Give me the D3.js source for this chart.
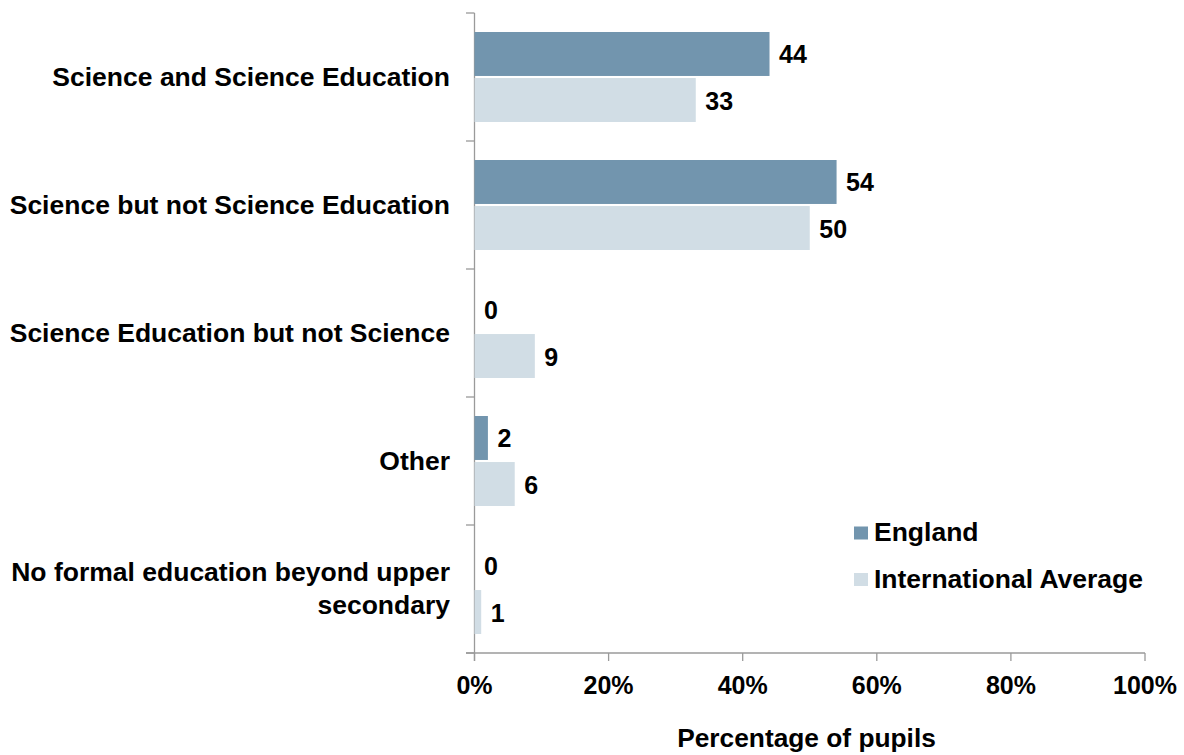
<!DOCTYPE html>
<html><head><meta charset="utf-8">
<script src="https://cdn.jsdelivr.net/npm/d3@7"></script>
<style>body{margin:0;background:#fff;} text{font-family:"Liberation Sans",Arial,sans-serif;font-weight:bold;fill:#000;}</style>
</head><body>
<svg id="c" width="1184" height="755"></svg>
<script>
const categories = [
  ["Science and Science Education"],
  ["Science but not Science Education"],
  ["Science Education but not Science"],
  ["Other"],
  ["No formal education beyond upper", "secondary"]
];
const seriesNames = ["England", "International Average"];
const england = [44, 54, 0, 2, 0];
const international = [33, 50, 9, 6, 1];
const xTicks = [0, 20, 40, 60, 80, 100];
const colors = ["#7295AE", "#D1DDE5"];

const svg = d3.select("#c");
const x = d3.scaleLinear().domain([0, 100]).range([474.5, 1145]);
const y = d3.scaleBand().domain(d3.range(categories.length)).range([13, 653]);
const inner = d3.scaleBand().domain([0, 1]).range([19, 128 - 19]).paddingInner(0.045);

const axisColor = "#9a9a9a";
// y axis
svg.append("line").attr("x1", 474.5).attr("x2", 474.5).attr("y1", 13).attr("y2", 661)
  .attr("stroke", axisColor).attr("stroke-width", 1.3);
const yb = d3.range(categories.length + 1).map(i => i < categories.length ? y(i) : 653);
svg.selectAll(".yt").data(yb).enter().append("line")
  .attr("x1", 466).attr("x2", 474.5).attr("y1", d => d).attr("y2", d => d)
  .attr("stroke", axisColor).attr("stroke-width", 1.3);
// x axis
svg.append("line").attr("x1", 466).attr("x2", 1145).attr("y1", 653).attr("y2", 653)
  .attr("stroke", axisColor).attr("stroke-width", 1.3);
svg.selectAll(".xt").data(xTicks).enter().append("line")
  .attr("x1", d => x(d)).attr("x2", d => x(d)).attr("y1", 653).attr("y2", 661)
  .attr("stroke", axisColor).attr("stroke-width", 1.3);
svg.selectAll(".xl").data(xTicks).enter().append("text")
  .attr("x", d => x(d)).attr("y", 694).attr("text-anchor", "middle")
  .style("font-size", "25px").text(d => d + "%");
svg.append("text").attr("x", 806.5).attr("y", 747).attr("text-anchor", "middle")
  .style("font-size", "26.3px").text("Percentage of pupils");

// category labels
categories.forEach((lines, i) => {
  const cy = y(i) + y.bandwidth() / 2;
  const n = lines.length;
  lines.forEach((t, j) => {
    svg.append("text").attr("x", 450).attr("y", cy + (j - (n - 1) / 2) * 33 + 8.5)
      .attr("text-anchor", "end").style("font-size", "26.5px").text(t);
  });
});

// bars
const series = [england, international];
series.forEach((vals, s) => {
  const g = svg.append("g");
  g.selectAll("rect").data(vals).enter().append("rect")
    .attr("x", x(0)).attr("y", (d, i) => y(i) + inner(s))
    .attr("width", d => x(d) - x(0)).attr("height", inner.bandwidth())
    .attr("fill", colors[s]);
  g.selectAll("text").data(vals).enter().append("text")
    .attr("x", d => x(d) + 9.5).attr("y", (d, i) => y(i) + inner(s) + inner.bandwidth() / 2 + 9.5)
    .style("font-size", "25px").text(d => d);
});

// legend
seriesNames.forEach((n, i) => {
  const ly = 533 + i * 46.5;
  svg.append("rect").attr("x", 854).attr("y", ly - 6.5).attr("width", 14).attr("height", 13).attr("fill", colors[i]);
  svg.append("text").attr("x", 874).attr("y", ly + 8).style("font-size", "26.5px").text(n);
});
</script>
</body></html>
